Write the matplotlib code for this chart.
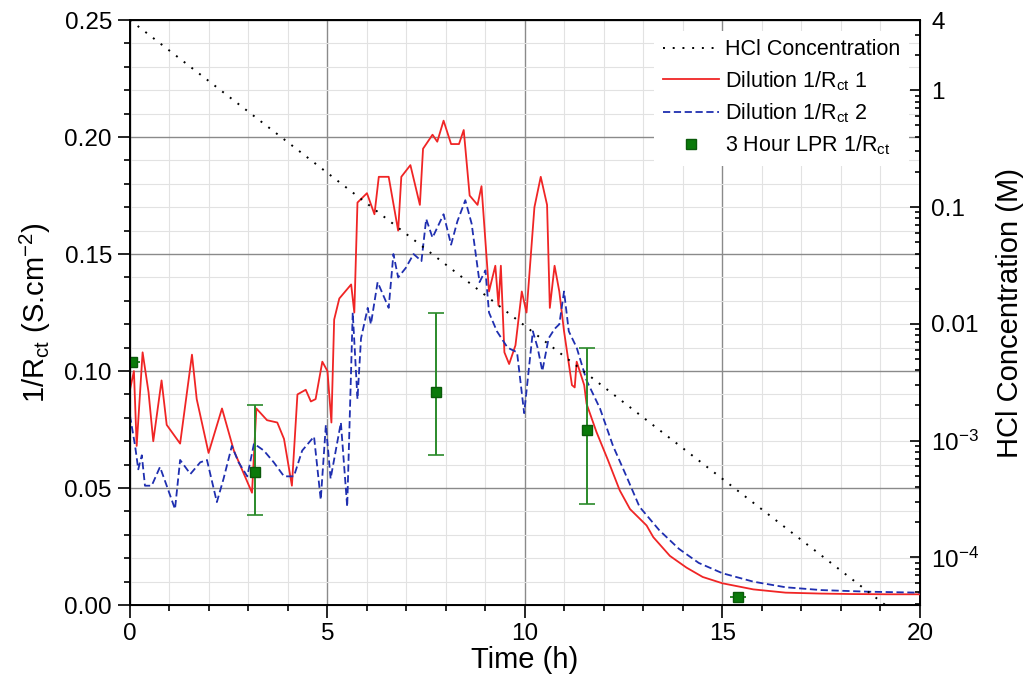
import matplotlib
matplotlib.use('Agg')
import matplotlib.pyplot as plt
from matplotlib.ticker import MultipleLocator, FixedLocator, LogLocator, NullFormatter

plt.rcParams['font.family'] = ['Liberation Sans', 'DejaVu Sans']
plt.rcParams['mathtext.fontset'] = 'custom'
plt.rcParams['mathtext.rm'] = 'Liberation Sans'
plt.rcParams['mathtext.it'] = 'Liberation Sans'

# Dilution 1/Rct 1 (red)
t_red = [0.0, 0.1, 0.17, 0.32, 0.47, 0.59, 0.8, 0.93, 1.27, 1.57, 1.69, 1.99, 2.33, 2.63,
         3.09, 3.2, 3.47, 3.73, 3.9, 4.1, 4.24, 4.45, 4.58, 4.7, 4.87, 5.0, 5.1, 5.17, 5.3,
         5.6, 5.68, 5.76, 6.0, 6.19, 6.3, 6.55, 6.79, 6.87, 7.1, 7.34, 7.42, 7.66, 7.78,
         7.94, 8.13, 8.33, 8.45, 8.6, 8.8, 8.9, 9.09, 9.25, 9.33, 9.39, 9.48, 9.6, 9.76,
         9.92, 10.04, 10.24, 10.4, 10.56, 10.63, 10.75, 10.87, 10.99, 11.19, 11.26, 11.31,
         11.5, 11.56, 11.81, 12.1, 12.4, 12.66, 13.08, 13.25, 13.67, 14.09, 14.5, 15.0,
         15.78, 16.6, 17.5, 18.3, 19.2, 20.0]
v_red = [0.092, 0.100, 0.068, 0.108, 0.091, 0.070, 0.096, 0.077, 0.069, 0.107, 0.088, 0.065,
         0.084, 0.066, 0.048, 0.084, 0.079, 0.078, 0.071, 0.051, 0.090, 0.092, 0.087, 0.088,
         0.104, 0.100, 0.078, 0.122, 0.131, 0.137, 0.125, 0.172, 0.176, 0.167, 0.183, 0.183,
         0.160, 0.183, 0.188, 0.171, 0.195, 0.201, 0.198, 0.207, 0.197, 0.197, 0.203, 0.175,
         0.171, 0.179, 0.134, 0.145, 0.128, 0.145, 0.108, 0.103, 0.111, 0.134, 0.125, 0.170,
         0.183, 0.171, 0.127, 0.145, 0.134, 0.117, 0.094, 0.093, 0.104, 0.094, 0.086, 0.074,
         0.062, 0.049, 0.041, 0.034, 0.029, 0.021, 0.016, 0.012, 0.0093, 0.0067, 0.0053,
         0.0049, 0.0047, 0.0046, 0.0046]

# Dilution 1/Rct 2 (blue)
t_blue = [0.0, 0.13, 0.21, 0.3, 0.38, 0.55, 0.76, 0.93, 1.14, 1.27, 1.53, 1.78, 1.95, 2.2,
          2.37, 2.58, 2.75, 2.97, 3.14, 3.39, 3.64, 3.9, 4.15, 4.36, 4.66, 4.83, 4.96, 5.08,
          5.34, 5.5, 5.64, 5.76, 5.85, 6.02, 6.1, 6.27, 6.55, 6.67, 6.79, 6.98, 7.18, 7.38,
          7.5, 7.66, 7.94, 8.13, 8.29, 8.49, 8.65, 8.85, 9.0, 9.09, 9.29, 9.56, 9.8, 9.98,
          10.2, 10.32, 10.44, 10.6, 10.75, 10.87, 10.99, 11.11, 11.31, 11.56, 11.9, 12.23,
          12.57, 12.9, 13.4, 13.9, 14.4, 15.0, 15.78, 16.6, 17.5, 18.7, 20.0]
v_blue = [0.081, 0.068, 0.058, 0.064, 0.051, 0.051, 0.059, 0.051, 0.041, 0.062, 0.056,
          0.061, 0.062, 0.044, 0.054, 0.068, 0.061, 0.055, 0.069, 0.066, 0.061, 0.055, 0.055,
          0.066, 0.072, 0.045, 0.077, 0.054, 0.078, 0.042, 0.125, 0.088, 0.114, 0.127, 0.120,
          0.138, 0.127, 0.150, 0.140, 0.144, 0.150, 0.147, 0.165, 0.157, 0.167, 0.154, 0.164,
          0.173, 0.163, 0.138, 0.143, 0.125, 0.117, 0.110, 0.108, 0.082, 0.117, 0.110, 0.100,
          0.114, 0.118, 0.120, 0.134, 0.117, 0.110, 0.096, 0.084, 0.068, 0.055, 0.042, 0.032,
          0.024, 0.018, 0.0136, 0.010, 0.0076, 0.0064, 0.0057, 0.0053]

# 3 hour LPR points with error bars
t_lpr = [0.05, 3.16, 7.75, 11.58, 15.4]
v_lpr = [0.104, 0.057, 0.091, 0.075, 0.0035]
err_lo = [0.0, 0.0185, 0.027, 0.032, 0.0]
err_hi = [0.0, 0.0285, 0.034, 0.035, 0.0]

# HCl concentration (M), right log axis
t_hcl = [0, 5, 10, 15, 20]
c_hcl = [4.0, 0.196, 0.0096, 4.7e-4, 2.3e-5]

fig = plt.figure(figsize=(10.29, 6.86), dpi=100)
ax = fig.add_axes([0.1263, 0.118, 0.7677, 0.8528])

ax.plot(t_red, v_red, color='#f02525', lw=1.3, label='Dilution 1/R$_{ct}$ 1', zorder=3)
ax.plot(t_blue, v_blue, color='#1f2fb0', lw=1.3, ls=(0, (4, 2)), label='Dilution 1/R$_{ct}$ 2', zorder=3)
ax.errorbar(t_lpr, v_lpr, yerr=[err_lo, err_hi], fmt='none', ecolor='#2a8a2a',
            elinewidth=1.4, capsize=6, capthick=1.2, zorder=4)
ax.plot(t_lpr, v_lpr, 's', color='#0a7a0a', ms=7, mec='#0a5a0a',
        label='3 Hour LPR 1/R$_{ct}$', zorder=5)

ax.set_xlim(0, 20)
ax.set_ylim(0, 0.25)
ax.xaxis.set_major_locator(MultipleLocator(5))
ax.xaxis.set_minor_locator(MultipleLocator(1))
ax.yaxis.set_major_locator(MultipleLocator(0.05))
ax.yaxis.set_minor_locator(MultipleLocator(0.01))
ax.set_yticklabels(['%.2f' % v for v in ax.get_yticks()])
ax.grid(which='major', color='#8a8a8a', lw=1.0)
ax.grid(which='minor', color='#e2e2e2', lw=0.8)
ax.set_axisbelow(True)
ax.tick_params(which='both', direction='out', labelsize=17.5, width=1.2, top=False, pad=4)
ax.tick_params(which='major', length=9)
ax.tick_params(which='minor', length=4.5)
ax.set_xlabel('Time (h)', fontsize=21, labelpad=1)
ax.set_ylabel('1/R$_{ct}$ (S.cm$^{-2}$)', fontsize=21, labelpad=8)
for s in ax.spines.values():
    s.set_linewidth(1.4)

ax2 = ax.twinx()
ax2.plot(t_hcl, c_hcl, color='black', lw=1.4, ls=(0, (1, 4)), label='HCl Concentration')
ax2.set_yscale('log')
ax2.set_ylim(3.9e-5, 4)
ax2.yaxis.set_major_locator(FixedLocator([4, 1, 0.1, 0.01, 1e-3, 1e-4]))
ax2.set_yticklabels(['4', '1', '0.1', '0.01', '10$^{-3}$', '10$^{-4}$'])
ax2.yaxis.set_minor_locator(LogLocator(base=10, subs=range(2, 10)))
ax2.yaxis.set_minor_formatter(NullFormatter())
ax2.tick_params(which='both', direction='in', labelsize=17.5, width=1.2, pad=8)
ax2.tick_params(which='major', length=7)
ax2.tick_params(which='minor', length=3.5)
ax2.set_ylabel('HCl Concentration (M)', fontsize=21, labelpad=12)

h1, l1 = ax2.get_legend_handles_labels()
h2, l2 = ax.get_legend_handles_labels()
leg = ax2.legend(h1 + h2, l1 + l2, loc='upper right', fontsize=15.5, frameon=True,
                 fancybox=False, edgecolor='none', facecolor='white', framealpha=1,
                 handlelength=2.6, handletextpad=0.3, borderaxespad=0.5, labelspacing=0.4)

fig.savefig('out.png', dpi=100)
